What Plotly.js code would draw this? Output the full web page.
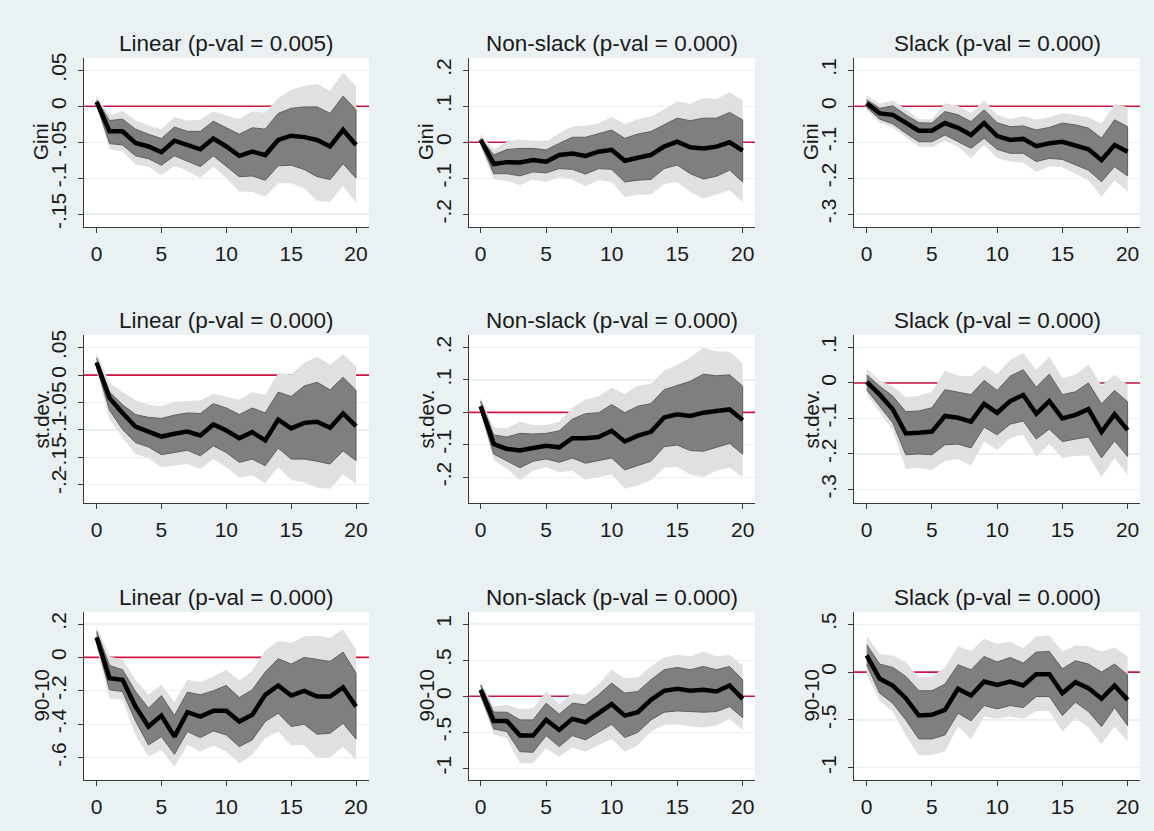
<!DOCTYPE html>
<html>
<head>
<meta charset="utf-8">
<script src="https://cdn.plot.ly/plotly-3.0.1.min.js"></script>
<style>
  html, body { margin: 0; padding: 0; background: #e9f1f3; }
  #chart { width: 1154px; height: 831px; }
</style>
</head>
<body>
<div id="chart"></div>
<script>
// ---------------- DATA ----------------
const horizon = [0,1,2,3,4,5,6,7,8,9,10,11,12,13,14,15,16,17,18,19,20];
const xTickVals = [0,5,10,15,20];
const xTickText = ['0','5','10','15','20'];
const zeroRef = [0, 0];

const panelTitles = [
  'Linear (p-val = 0.005)', 'Non-slack (p-val = 0.000)', 'Slack (p-val = 0.000)',
  'Linear (p-val = 0.000)', 'Non-slack (p-val = 0.000)', 'Slack (p-val = 0.000)',
  'Linear (p-val = 0.000)', 'Non-slack (p-val = 0.000)', 'Slack (p-val = 0.000)'
];
const yTitles = ['Gini','Gini','Gini','st.dev.','st.dev.','st.dev.','90-10','90-10','90-10'];

const yTickVals1 = [-0.15,-0.1,-0.05,0,0.05];       const yTickText1 = ['-.15','-.1','-.05','0','.05'];
const yTickVals2 = [-0.2,-0.1,0,0.1,0.2];           const yTickText2 = ['-.2','-.1','0','.1','.2'];
const yTickVals3 = [-0.3,-0.2,-0.1,0,0.1];          const yTickText3 = ['-.3','-.2','-.1','0','.1'];
const yTickVals4 = [-0.2,-0.15,-0.1,-0.05,0,0.05];  const yTickText4 = ['-.2','-.15','-.1','-.05','0','.05'];
const yTickVals5 = [-0.2,-0.1,0,0.1,0.2];           const yTickText5 = ['-.2','-.1','0','.1','.2'];
const yTickVals6 = [-0.3,-0.2,-0.1,0,0.1];          const yTickText6 = ['-.3','-.2','-.1','0','.1'];
const yTickVals7 = [-0.6,-0.4,-0.2,0,0.2];          const yTickText7 = ['-.6','-.4','-.2','0','.2'];
const yTickVals8 = [-1,-0.5,0,0.5,1];               const yTickText8 = ['-1','-.5','0','.5','1'];
const yTickVals9 = [-1,-0.5,0,0.5];                 const yTickText9 = ['-1','-.5','0','.5'];

// Gini - Linear
const giniLin_b    = [0.006,-0.035,-0.035,-0.051,-0.056,-0.064,-0.048,-0.054,-0.060,-0.045,-0.056,-0.069,-0.063,-0.068,-0.047,-0.041,-0.043,-0.047,-0.056,-0.033,-0.054];
const giniLin_hi68 = [0.009,-0.020,-0.018,-0.032,-0.039,-0.045,-0.029,-0.035,-0.035,-0.021,-0.030,-0.039,-0.030,-0.032,-0.010,-0.003,-0.001,-0.001,-0.010,0.014,-0.005];
const giniLin_lo68 = [0.003,-0.052,-0.054,-0.069,-0.073,-0.082,-0.069,-0.076,-0.084,-0.069,-0.083,-0.098,-0.097,-0.103,-0.083,-0.082,-0.088,-0.098,-0.102,-0.080,-0.100];
const giniLin_hi90 = [0.014,-0.013,-0.006,-0.020,-0.027,-0.032,-0.015,-0.020,-0.019,-0.007,-0.013,-0.018,-0.007,-0.009,0.011,0.023,0.028,0.031,0.021,0.047,0.028];
const giniLin_lo90 = [-0.001,-0.060,-0.063,-0.081,-0.084,-0.096,-0.083,-0.090,-0.100,-0.084,-0.100,-0.119,-0.119,-0.126,-0.107,-0.107,-0.114,-0.132,-0.133,-0.111,-0.134];

// Gini - Non-slack
const giniNon_b    = [0.007,-0.060,-0.055,-0.056,-0.049,-0.054,-0.035,-0.031,-0.038,-0.026,-0.021,-0.051,-0.043,-0.035,-0.012,0.002,-0.014,-0.017,-0.012,0.000,-0.023];
const giniNon_hi68 = [0.011,-0.035,-0.020,-0.017,-0.017,-0.021,-0.003,0.014,0.014,0.023,0.034,0.011,0.023,0.030,0.048,0.067,0.060,0.067,0.067,0.083,0.062];
const giniNon_lo68 = [-0.003,-0.087,-0.087,-0.093,-0.082,-0.085,-0.073,-0.075,-0.088,-0.073,-0.075,-0.110,-0.105,-0.103,-0.073,-0.063,-0.087,-0.102,-0.094,-0.077,-0.110];
const giniNon_hi90 = [0.023,-0.020,0.002,0.008,0.005,0.002,0.025,0.044,0.046,0.053,0.070,0.051,0.064,0.072,0.092,0.113,0.107,0.123,0.120,0.139,0.116];
const giniNon_lo90 = [-0.012,-0.103,-0.107,-0.119,-0.103,-0.110,-0.096,-0.103,-0.122,-0.105,-0.110,-0.152,-0.145,-0.145,-0.116,-0.110,-0.138,-0.156,-0.144,-0.133,-0.166];

// Gini - Slack
const giniSlk_b    = [0.008,-0.020,-0.024,-0.047,-0.068,-0.068,-0.047,-0.060,-0.080,-0.047,-0.083,-0.094,-0.091,-0.111,-0.103,-0.099,-0.108,-0.120,-0.150,-0.108,-0.127];
const giniSlk_hi68 = [0.018,-0.006,0.001,-0.024,-0.046,-0.047,-0.015,-0.024,-0.043,-0.010,-0.046,-0.057,-0.055,-0.066,-0.059,-0.047,-0.052,-0.061,-0.089,-0.038,-0.057];
const giniSlk_lo68 = [-0.003,-0.036,-0.049,-0.075,-0.099,-0.099,-0.080,-0.099,-0.117,-0.089,-0.120,-0.131,-0.131,-0.154,-0.145,-0.148,-0.164,-0.178,-0.210,-0.168,-0.194];
const giniSlk_hi90 = [0.029,0.007,0.016,-0.008,-0.036,-0.036,0.008,0.001,-0.020,0.016,-0.024,-0.036,-0.027,-0.038,-0.031,-0.020,-0.024,-0.031,-0.049,0.007,-0.003];
const giniSlk_lo90 = [-0.010,-0.046,-0.059,-0.087,-0.113,-0.114,-0.096,-0.113,-0.145,-0.108,-0.145,-0.154,-0.157,-0.182,-0.168,-0.170,-0.187,-0.206,-0.252,-0.206,-0.238];

// st.dev. - Linear
const sdLin_b    = [0.023,-0.042,-0.069,-0.094,-0.103,-0.112,-0.107,-0.103,-0.110,-0.090,-0.101,-0.115,-0.104,-0.119,-0.081,-0.097,-0.087,-0.085,-0.096,-0.070,-0.093];
const sdLin_hi68 = [0.031,-0.031,-0.054,-0.072,-0.077,-0.079,-0.073,-0.069,-0.070,-0.052,-0.060,-0.072,-0.060,-0.069,-0.031,-0.039,-0.020,-0.013,-0.027,-0.004,-0.028];
const sdLin_lo68 = [0.016,-0.064,-0.099,-0.123,-0.131,-0.145,-0.141,-0.137,-0.147,-0.129,-0.141,-0.159,-0.153,-0.165,-0.133,-0.153,-0.153,-0.157,-0.162,-0.138,-0.156];
const sdLin_hi90 = [0.041,-0.014,-0.031,-0.046,-0.054,-0.057,-0.049,-0.048,-0.046,-0.034,-0.039,-0.045,-0.031,-0.036,0.004,0.001,0.022,0.034,0.019,0.038,0.016];
const sdLin_lo90 = [0.007,-0.081,-0.114,-0.144,-0.151,-0.168,-0.165,-0.162,-0.171,-0.153,-0.168,-0.187,-0.183,-0.197,-0.168,-0.191,-0.195,-0.205,-0.207,-0.181,-0.198];

// st.dev. - Non-slack
const sdNon_b    = [0.019,-0.098,-0.113,-0.118,-0.110,-0.103,-0.108,-0.080,-0.080,-0.076,-0.057,-0.090,-0.072,-0.060,-0.016,-0.006,-0.011,-0.001,0.004,0.009,-0.024];
const sdNon_hi68 = [0.035,-0.070,-0.076,-0.065,-0.067,-0.065,-0.057,-0.021,-0.004,-0.001,0.024,-0.001,0.019,0.027,0.070,0.084,0.096,0.118,0.113,0.116,0.081];
const sdNon_lo68 = [0.006,-0.129,-0.149,-0.171,-0.151,-0.144,-0.154,-0.141,-0.157,-0.149,-0.141,-0.178,-0.164,-0.151,-0.106,-0.101,-0.118,-0.120,-0.108,-0.096,-0.129];
const sdNon_hi90 = [0.045,-0.047,-0.049,-0.029,-0.039,-0.039,-0.029,0.014,0.040,0.050,0.076,0.057,0.083,0.088,0.129,0.147,0.169,0.200,0.188,0.188,0.152];
const sdNon_lo90 = [-0.006,-0.149,-0.174,-0.210,-0.180,-0.169,-0.185,-0.180,-0.208,-0.200,-0.192,-0.236,-0.226,-0.210,-0.171,-0.169,-0.192,-0.200,-0.180,-0.171,-0.200];

// st.dev. - Slack
const sdSlk_b    = [0.003,-0.033,-0.074,-0.142,-0.140,-0.137,-0.093,-0.098,-0.109,-0.059,-0.084,-0.051,-0.034,-0.087,-0.051,-0.100,-0.090,-0.074,-0.138,-0.088,-0.133];
const sdSlk_hi68 = [0.023,-0.009,-0.037,-0.081,-0.079,-0.070,-0.019,-0.025,-0.033,0.007,-0.021,0.019,0.037,-0.012,0.025,-0.033,-0.025,0.000,-0.059,-0.021,-0.053];
const sdSlk_lo68 = [-0.019,-0.065,-0.112,-0.202,-0.200,-0.202,-0.174,-0.172,-0.183,-0.124,-0.146,-0.116,-0.107,-0.158,-0.130,-0.165,-0.158,-0.152,-0.211,-0.163,-0.207];
const sdSlk_hi90 = [0.040,0.007,-0.009,-0.040,-0.037,-0.025,0.034,0.021,0.019,0.049,0.025,0.065,0.084,0.037,0.074,0.014,0.023,0.051,-0.007,0.023,-0.005];
const sdSlk_lo90 = [-0.031,-0.084,-0.133,-0.242,-0.239,-0.245,-0.220,-0.214,-0.233,-0.165,-0.189,-0.155,-0.146,-0.207,-0.172,-0.211,-0.205,-0.205,-0.265,-0.211,-0.260];

// 90-10 - Linear
const p9Lin_b    = [0.120,-0.124,-0.134,-0.294,-0.414,-0.348,-0.474,-0.328,-0.354,-0.320,-0.320,-0.384,-0.344,-0.224,-0.168,-0.228,-0.200,-0.234,-0.234,-0.180,-0.294];
const p9Lin_hi68 = [0.156,-0.048,-0.074,-0.204,-0.304,-0.228,-0.348,-0.208,-0.224,-0.200,-0.168,-0.240,-0.194,-0.088,-0.008,-0.040,0.000,-0.014,-0.024,0.032,-0.094];
const p9Lin_lo68 = [0.092,-0.194,-0.204,-0.380,-0.524,-0.474,-0.580,-0.444,-0.480,-0.440,-0.464,-0.534,-0.494,-0.384,-0.334,-0.414,-0.400,-0.460,-0.454,-0.394,-0.488];
const p9Lin_hi90 = [0.186,0.006,-0.014,-0.134,-0.224,-0.164,-0.268,-0.134,-0.148,-0.114,-0.074,-0.140,-0.080,0.040,0.100,0.086,0.126,0.132,0.116,0.170,0.046];
const p9Lin_lo90 = [0.060,-0.244,-0.254,-0.464,-0.594,-0.554,-0.654,-0.524,-0.564,-0.528,-0.564,-0.634,-0.584,-0.484,-0.444,-0.528,-0.524,-0.604,-0.600,-0.534,-0.614];

// 90-10 - Non-slack
const p9Non_b    = [0.088,-0.343,-0.343,-0.546,-0.546,-0.329,-0.468,-0.315,-0.361,-0.236,-0.111,-0.269,-0.222,-0.051,0.074,0.102,0.074,0.088,0.065,0.148,-0.037];
const p9Non_hi68 = [0.157,-0.222,-0.222,-0.329,-0.329,-0.097,-0.250,-0.097,-0.120,0.019,0.181,0.042,0.065,0.227,0.366,0.398,0.366,0.412,0.366,0.412,0.227];
const p9Non_lo68 = [0.009,-0.454,-0.491,-0.769,-0.778,-0.546,-0.699,-0.546,-0.606,-0.500,-0.389,-0.574,-0.500,-0.329,-0.222,-0.204,-0.213,-0.222,-0.213,-0.144,-0.296];
const p9Non_hi90 = [0.204,-0.144,-0.120,-0.176,-0.167,0.065,-0.111,0.042,0.019,0.167,0.366,0.250,0.259,0.412,0.537,0.574,0.551,0.620,0.551,0.574,0.426];
const p9Non_lo90 = [-0.028,-0.528,-0.583,-0.931,-0.931,-0.722,-0.838,-0.713,-0.769,-0.676,-0.593,-0.769,-0.676,-0.491,-0.398,-0.389,-0.421,-0.435,-0.407,-0.315,-0.468];

// 90-10 - Slack
const p9Slk_b    = [0.174,-0.070,-0.140,-0.272,-0.453,-0.446,-0.394,-0.174,-0.244,-0.098,-0.133,-0.098,-0.140,-0.021,-0.021,-0.220,-0.105,-0.167,-0.279,-0.140,-0.290];
const p9Slk_hi68 = [0.286,0.084,0.049,-0.045,-0.195,-0.195,-0.126,0.077,0.024,0.164,0.105,0.153,0.094,0.209,0.216,0.035,0.119,0.084,0.000,0.084,-0.028];
const p9Slk_lo68 = [0.077,-0.220,-0.324,-0.499,-0.698,-0.698,-0.656,-0.429,-0.509,-0.349,-0.384,-0.349,-0.370,-0.255,-0.255,-0.453,-0.314,-0.412,-0.569,-0.370,-0.558];
const p9Slk_hi90 = [0.384,0.188,0.174,0.105,-0.056,-0.045,0.049,0.269,0.223,0.349,0.293,0.321,0.251,0.373,0.384,0.216,0.279,0.269,0.216,0.258,0.164];
const p9Slk_lo90 = [-0.021,-0.300,-0.412,-0.663,-0.872,-0.865,-0.830,-0.569,-0.698,-0.464,-0.488,-0.464,-0.488,-0.405,-0.405,-0.621,-0.481,-0.579,-0.753,-0.569,-0.726];

// ---------------- BUILD ----------------
const panels = [
  {b: giniLin_b, hi68: giniLin_hi68, lo68: giniLin_lo68, hi90: giniLin_hi90, lo90: giniLin_lo90, tv: yTickVals1, tt: yTickText1},
  {b: giniNon_b, hi68: giniNon_hi68, lo68: giniNon_lo68, hi90: giniNon_hi90, lo90: giniNon_lo90, tv: yTickVals2, tt: yTickText2},
  {b: giniSlk_b, hi68: giniSlk_hi68, lo68: giniSlk_lo68, hi90: giniSlk_hi90, lo90: giniSlk_lo90, tv: yTickVals3, tt: yTickText3},
  {b: sdLin_b, hi68: sdLin_hi68, lo68: sdLin_lo68, hi90: sdLin_hi90, lo90: sdLin_lo90, tv: yTickVals4, tt: yTickText4},
  {b: sdNon_b, hi68: sdNon_hi68, lo68: sdNon_lo68, hi90: sdNon_hi90, lo90: sdNon_lo90, tv: yTickVals5, tt: yTickText5},
  {b: sdSlk_b, hi68: sdSlk_hi68, lo68: sdSlk_lo68, hi90: sdSlk_hi90, lo90: sdSlk_lo90, tv: yTickVals6, tt: yTickText6},
  {b: p9Lin_b, hi68: p9Lin_hi68, lo68: p9Lin_lo68, hi90: p9Lin_hi90, lo90: p9Lin_lo90, tv: yTickVals7, tt: yTickText7},
  {b: p9Non_b, hi68: p9Non_hi68, lo68: p9Non_lo68, hi90: p9Non_hi90, lo90: p9Non_lo90, tv: yTickVals8, tt: yTickText8},
  {b: p9Slk_b, hi68: p9Slk_hi68, lo68: p9Slk_lo68, hi90: p9Slk_hi90, lo90: p9Slk_lo90, tv: yTickVals9, tt: yTickText9}
];

// layout geometry (pixels in a 1154 x 831 canvas)
const W = 1154, H = 831;
const colPx = [[84, 369], [469, 755], [854, 1140]];
const rowPx = [[58, 227], [335, 503], [612, 780]];
const xRanges = [[-0.97, 21.0], [-0.89, 20.94], [-0.97, 20.95]];
const yRanges = [
  [-0.168, 0.067], [-0.235, 0.234], [-0.336, 0.134],
  [-0.233, 0.073], [-0.280, 0.239], [-0.338, 0.135],
  [-0.734, 0.272], [-1.162, 1.167], [-1.127, 0.628]
];

const FONT = 'Liberation Sans, Arial, sans-serif';
const INK = '#1a1a1a';
const AXIS = '#3a3a3a';
const BG = '#e9f1f3';
const ZERO = '#cf1541';

const traces = [];
const annotations = [];
const layout = {
  width: W, height: H,
  margin: {l: 0, r: 0, t: 0, b: 0},
  paper_bgcolor: BG,
  plot_bgcolor: '#ffffff',
  showlegend: false,
  font: {family: FONT, color: INK, size: 21},
  annotations: annotations
};

const xRev = horizon.slice().reverse();

panels.forEach((p, i) => {
  const r = Math.floor(i / 3), c = i % 3;
  const sfx = i === 0 ? '' : String(i + 1);
  const xa = 'x' + sfx, ya = 'y' + sfx;

  // zero reference line (drawn first, under the bands), spanning the axis range
  traces.push({
    type: 'scatter', mode: 'lines', xaxis: xa, yaxis: ya,
    x: xRanges[c], y: zeroRef,
    line: {width: 1.6, color: ZERO}, hoverinfo: 'skip'
  });
  traces.push({
    type: 'scatter', mode: 'lines', xaxis: xa, yaxis: ya,
    x: horizon.concat(xRev), y: p.hi90.concat(p.lo90.slice().reverse()),
    fill: 'toself', fillcolor: '#e0e0e0', line: {width: 0, color: '#e0e0e0'},
    hoverinfo: 'skip'
  });
  traces.push({
    type: 'scatter', mode: 'lines', xaxis: xa, yaxis: ya,
    x: horizon.concat(xRev), y: p.hi68.concat(p.lo68.slice().reverse()),
    fill: 'toself', fillcolor: '#7f7f7f', line: {width: 1, color: '#5f5f5f'},
    hoverinfo: 'skip'
  });
  traces.push({
    type: 'scatter', mode: 'lines', xaxis: xa, yaxis: ya,
    x: horizon, y: p.b, line: {width: 4.5, color: '#000000'}
  });

  const dx = [colPx[c][0] / W, colPx[c][1] / W];
  const dy = [1 - rowPx[r][1] / H, 1 - rowPx[r][0] / H];

  layout['xaxis' + sfx] = {
    domain: dx, anchor: ya, range: xRanges[c],
    tickmode: 'array', tickvals: xTickVals, ticktext: xTickText,
    ticks: 'outside', ticklen: 5, tickcolor: AXIS, tickwidth: 1,
    ticklabelstandoff: 3,
    showline: true, linecolor: AXIS, linewidth: 1,
    showgrid: false, zeroline: false,
    tickfont: {size: 21, family: FONT, color: INK}
  };
  layout['yaxis' + sfx] = {
    domain: dy, anchor: xa, range: yRanges[i],
    tickmode: 'array', tickvals: p.tv, ticktext: p.tt, tickangle: -90,
    ticks: 'outside', ticklen: 5, tickcolor: AXIS, tickwidth: 1,
    ticklabelstandoff: 4,
    showline: true, linecolor: AXIS, linewidth: 1,
    showgrid: true, gridcolor: BG, gridwidth: 1.2,
    zeroline: false,
    tickfont: {size: 21, family: FONT, color: INK}
  };

  annotations.push({
    text: panelTitles[i], xref: 'paper', yref: 'paper',
    x: (dx[0] + dx[1]) / 2, y: dy[1], xanchor: 'center', yanchor: 'bottom',
    yshift: 0, showarrow: false, font: {size: 22.5, family: FONT, color: INK}
  });
  annotations.push({
    text: yTitles[i], xref: 'paper', yref: 'paper', textangle: -90,
    x: (colPx[c][0] - 43.5) / W, y: (dy[0] + dy[1]) / 2,
    xanchor: 'center', yanchor: 'middle',
    showarrow: false, font: {size: 20.5, family: FONT, color: INK}
  });
});

Plotly.newPlot('chart', traces, layout, {displayModeBar: false, staticPlot: true});
</script>
</body>
</html>
